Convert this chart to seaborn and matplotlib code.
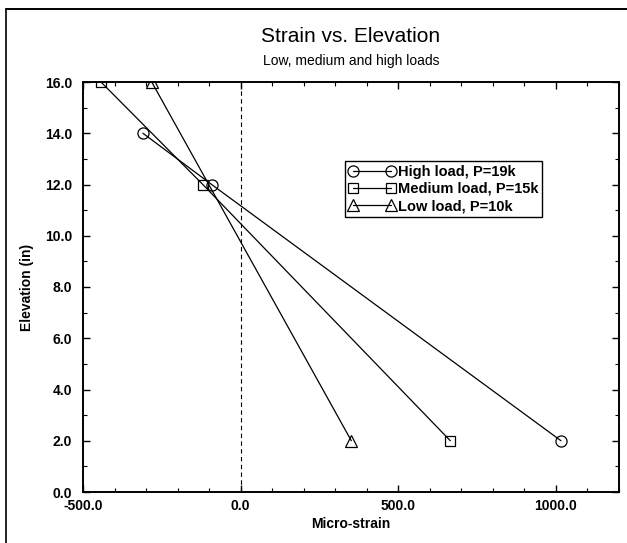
import matplotlib
matplotlib.use("Agg")
import matplotlib.pyplot as plt
from matplotlib.lines import Line2D
from matplotlib.ticker import MultipleLocator, FormatStrFormatter
import seaborn as sns
import pandas as pd

# ---- data ----
high_strain = [-310, -92, 1016]
high_elev = [14.0, 12.0, 2.0]
med_strain = [-443, -120, 665]
med_elev = [16.0, 12.0, 2.0]
low_strain = [-282, 351]
low_elev = [16.0, 2.0]
series_labels = ["High load, P=19k", "Medium load, P=15k", "Low load, P=10k"]
series_markers = ["o", "s", "^"]

title = "Strain vs. Elevation"
subtitle = "Low, medium and high loads"
xlabel = "Micro-strain"
ylabel = "Elevation (in)"

sns.set_style("ticks")
plt.rcParams["font.family"] = ["Liberation Sans", "DejaVu Sans"]
plt.rcParams["text.color"] = "black"
plt.rcParams["axes.labelcolor"] = "black"
plt.rcParams["xtick.color"] = "black"
plt.rcParams["ytick.color"] = "black"

fig = plt.figure(figsize=(6.27, 5.43), dpi=100)
W, H = 627, 543
L, R, T, B = 83, 619, 82, 492
ax = fig.add_axes([L / W, 1 - B / H, (R - L) / W, (B - T) / H])

frames = [
    pd.DataFrame({"strain": high_strain, "elev": high_elev}),
    pd.DataFrame({"strain": med_strain, "elev": med_elev}),
    pd.DataFrame({"strain": low_strain, "elev": low_elev}),
]
msizes = [8, 7, 8]
for df, lab, mk, ms in zip(frames, series_labels, series_markers, msizes):
    sns.lineplot(data=df, x="strain", y="elev", sort=False, estimator=None,
                 ax=ax, color="black", lw=0.9, marker=mk, markersize=ms,
                 markerfacecolor="none", markeredgecolor="black",
                 markeredgewidth=0.9, label=lab)

ax.axvline(0, color="black", lw=0.8, ls=(0, (4, 3)))

ax.set_xlim(-500, 1200)
ax.set_ylim(0, 16)
ax.xaxis.set_major_locator(MultipleLocator(500))
ax.xaxis.set_minor_locator(MultipleLocator(100))
ax.yaxis.set_major_locator(MultipleLocator(2))
ax.yaxis.set_minor_locator(MultipleLocator(1))
ax.xaxis.set_major_formatter(FormatStrFormatter("%.1f"))
ax.yaxis.set_major_formatter(FormatStrFormatter("%.1f"))
ax.tick_params(which="both", direction="in", top=True, right=True,
               colors="black", labelsize=10)
ax.tick_params(which="major", length=5, width=1)
ax.tick_params(which="minor", length=3, width=0.8)
ax.tick_params(axis="x", pad=5)
ax.tick_params(axis="y", pad=8)
for lab in ax.get_xticklabels() + ax.get_yticklabels():
    lab.set_fontweight("bold")
for s in ax.spines.values():
    s.set_color("black")
    s.set_linewidth(1.4)

ax.set_xlabel(xlabel, fontsize=10, fontweight="bold", labelpad=3)
ax.set_ylabel(ylabel, fontsize=10, fontweight="bold", labelpad=8)

fig.text((L + R) / 2 / W, 1 - 37 / H, title, ha="center", va="center",
         fontsize=15, color="black")
fig.text((L + R) / 2 / W, 1 - 61 / H, subtitle, ha="center", va="center",
         fontsize=10, color="black")

leg = ax.legend(loc="upper right",
                bbox_to_anchor=((542 - L) / (R - L), (B - 161) / (B - T)),
                borderaxespad=0, numpoints=2, handlelength=3.2,
                handletextpad=0.15, borderpad=0.25, labelspacing=0.22,
                fancybox=False, framealpha=1, edgecolor="black",
                prop={"size": 10.5, "weight": "bold"})
leg.get_frame().set_linewidth(1.0)
for t in leg.get_texts():
    t.set_color("black")

# figure border (left and top edges as in the scanned reference)
fig.add_artist(Line2D([6 / W, 6 / W], [0, 1 - 9 / H], color="black",
                      lw=1.2, transform=fig.transFigure))
fig.add_artist(Line2D([6 / W, 1], [1 - 9 / H, 1 - 9 / H], color="black",
                      lw=1.4, transform=fig.transFigure))

fig.savefig("out.png", dpi=100)
